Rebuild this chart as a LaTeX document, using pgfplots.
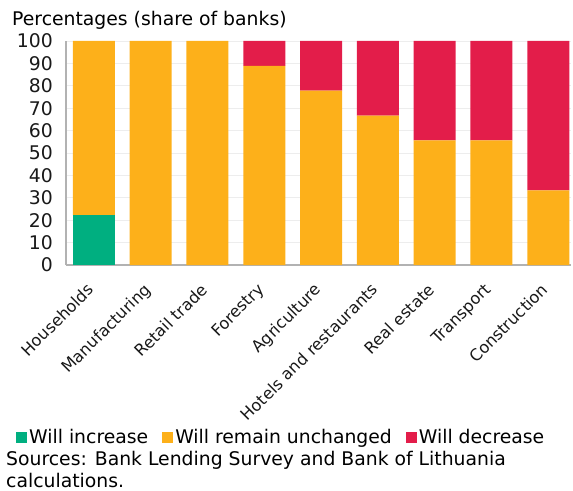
\documentclass[border=0pt]{standalone}
\usepackage{fontspec}
\setmainfont{DejaVu Sans}
\usepackage{pgfplots}
\pgfplotsset{compat=1.18}
\definecolor{cgreen}{HTML}{00AF80}
\definecolor{corange}{HTML}{FDB01A}
\definecolor{cred}{HTML}{E31D4A}
\newcommand{\fs}{\fontsize{18.8}{22}\selectfont}
\begin{document}
\begin{tikzpicture}[x=1pt,y=1pt]
\useasboundingbox (0,0) rectangle (573,490);
\begin{axis}[
  at={(66pt,225pt)}, anchor=south west,
  scale only axis, width=505pt, height=224pt,
  ybar stacked, bar width=42pt,
  xmin=-0.49, xmax=8.4, ymin=0, ymax=100,
  ytick={0,10,...,100},
  xtick={0,...,8},
  xticklabels={Households,Manufacturing,Retail trade,Forestry,Agriculture,Hotels and restaurants,Real estate,Transport,Construction},
  major tick length=0pt,
  axis x line*=bottom, axis y line*=left,
  axis line style={-, draw=black!30, line width=1.3pt},
  ymajorgrids, grid style={draw=black!7, line width=0.8pt},
  /pgf/number format/assume math mode=true,
  yticklabel style={font=\fs, text=black!90, anchor=east, inner sep=0pt, xshift=-13pt},
  xticklabel style={font=\fontsize{16.2}{19}\selectfont, text=black!90, rotate=45, anchor=north east, inner sep=0pt, xshift=-17.5pt, yshift=-6.5pt},
  legend style={at={(-0.099,-0.768)}, anchor=west, draw=none, fill=none,
    legend columns=-1, font=\fs,
    column sep=0pt, inner sep=0pt,
    /tikz/every even column/.append style={column sep=12pt}},
  legend cell align=left,
]
\addplot[fill=cgreen, draw=none, legend image code/.code={\fill[cgreen] (0pt,-5.5pt) rectangle (11pt,5.5pt);}] coordinates {(0,22.2) (1,0) (2,0) (3,0) (4,0) (5,0) (6,0) (7,0) (8,0)};
\addplot[fill=corange, draw=none, legend image code/.code={\fill[corange] (0pt,-5.5pt) rectangle (11pt,5.5pt);}] coordinates {(0,77.8) (1,100) (2,100) (3,88.9) (4,77.8) (5,66.7) (6,55.6) (7,55.6) (8,33.3)};
\addplot[fill=cred, draw=none, legend image code/.code={\fill[cred] (0pt,-5.5pt) rectangle (11pt,5.5pt);}] coordinates {(0,0) (1,0) (2,0) (3,11.1) (4,22.2) (5,33.3) (6,44.4) (7,44.4) (8,66.7)};
\legend{Will increase,Will remain unchanged,Will decrease}
\end{axis}
\node[anchor=west, inner sep=0pt, font=\fs] at (12,470) {Percentages (share of banks)};
\node[anchor=west, inner sep=0pt, font=\fs] at (6,30) {Sources: Bank Lending Survey and Bank of Lithuania};
\node[anchor=west, inner sep=0pt, font=\fs] at (6,10) {calculations.};
\end{tikzpicture}
\end{document}
